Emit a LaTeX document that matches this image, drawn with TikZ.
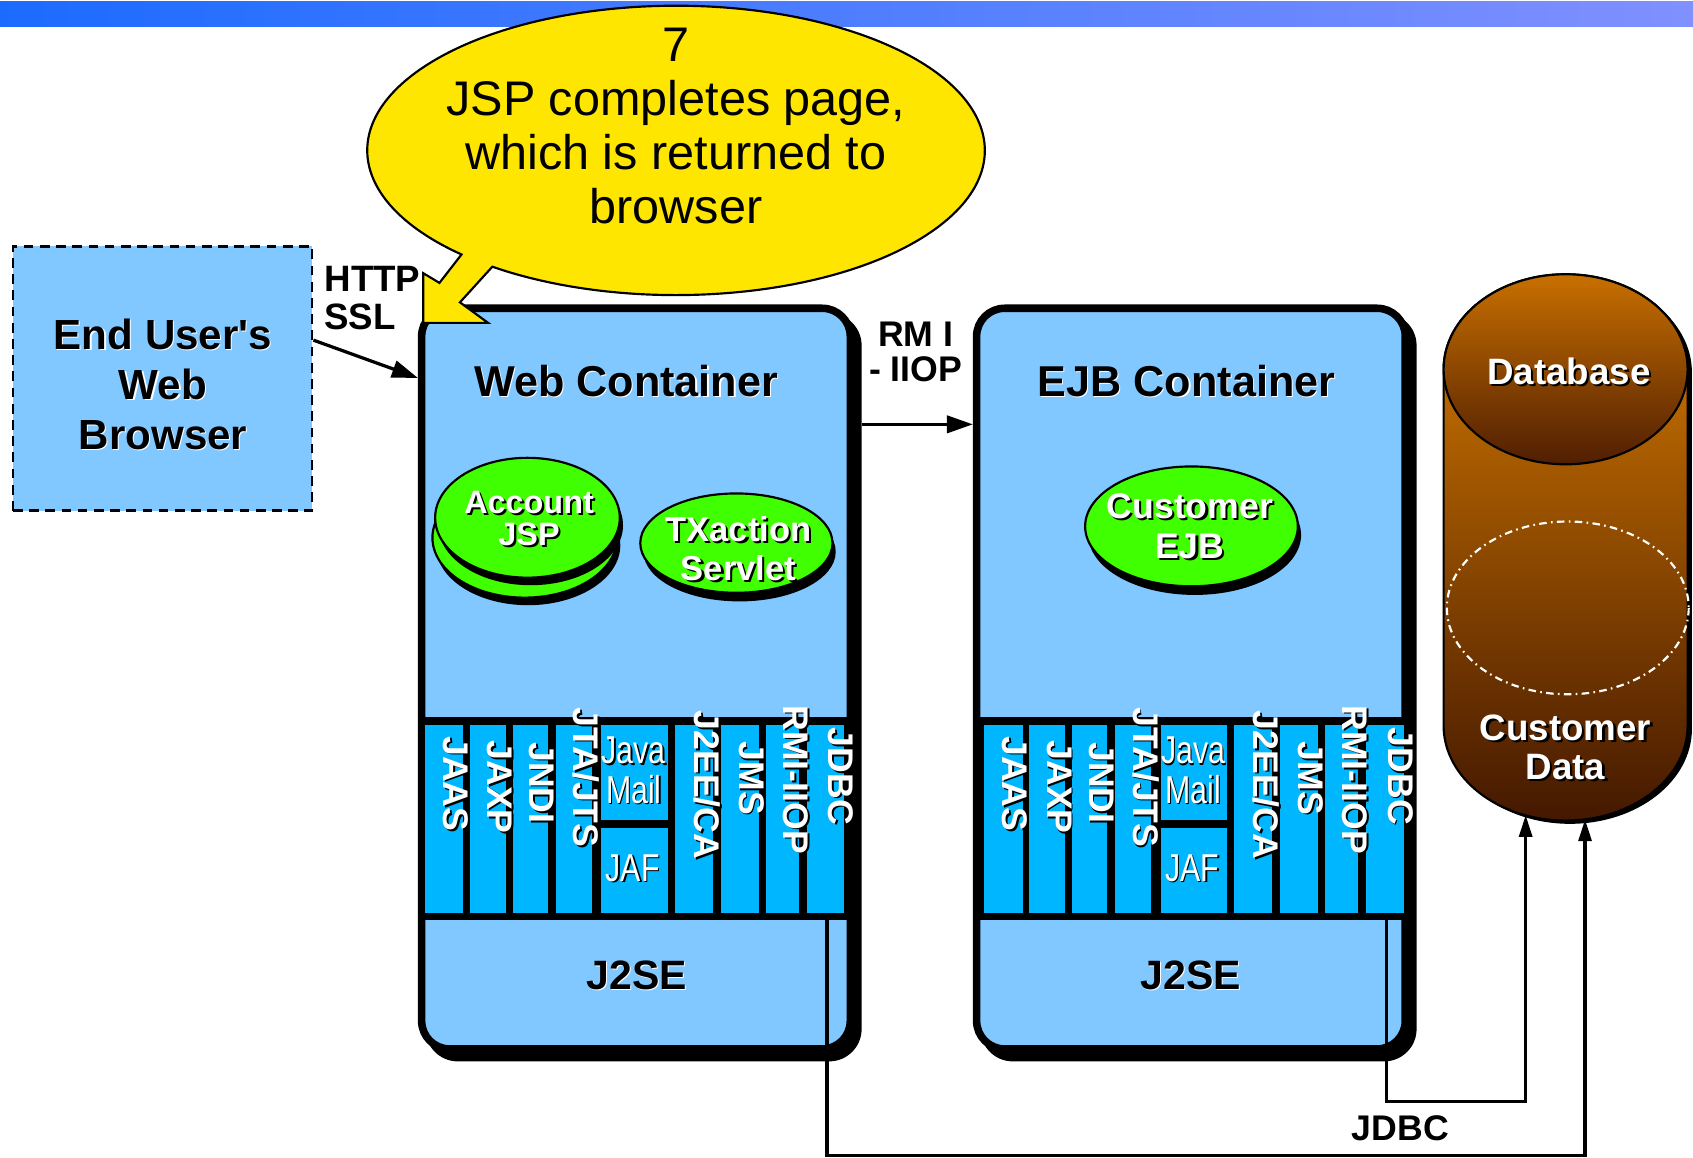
\documentclass[tikz,border=0pt]{standalone}
\usepackage{fontspec}
\setmainfont{Liberation Sans}
\newfontfamily\narrowfont{Liberation Sans}[FakeStretch=0.78]
\usetikzlibrary{arrows.meta,shapes.geometric}

\definecolor{paneblue}{RGB}{128,200,255}
\definecolor{apicyan}{RGB}{0,182,255}
\definecolor{beangreen}{RGB}{64,255,0}
\definecolor{calloutyellow}{RGB}{255,230,0}
\definecolor{dbtop}{RGB}{216,124,0}
\definecolor{dbbottom}{RGB}{68,24,0}
\definecolor{dblidtop}{RGB}{200,112,0}
\definecolor{dblidbottom}{RGB}{80,30,2}
\definecolor{barleft}{RGB}{28,107,255}
\definecolor{barmid}{RGB}{140,238,255}
\definecolor{barright}{RGB}{128,144,255}

% text with a drop shadow: {style}{name}{x,y}{shadow colour}{offset}{text}
\newcommand{\droptext}[6]{%
  \node[#1, text=#4] (#2s) at ([shift={(#5,#5)}]#3) {#6};
  \node[#1] (#2) at (#3) {#6};}

% row of API cells of one container
\def\apiband#1(#2){%
  \begin{scope}[xshift=#2]
    \fill[black] (390,664) rectangle (788,852);
    \fill[apicyan] (393.5,671) rectangle (429,846);
    \fill[apicyan] (435,671) rectangle (468.5,846);
    \fill[apicyan] (475,671) rectangle (507.5,846);
    \fill[apicyan] (515,671) rectangle (548,846);
    \fill[apicyan] (557,671) rectangle (618.5,759);
    \fill[apicyan] (557,766.5) rectangle (618.5,846);
    \fill[apicyan] (625,671) rectangle (660,846);
    \fill[apicyan] (667.5,671) rectangle (703,846);
    \fill[apicyan] (709,671) rectangle (740,846);
    \fill[apicyan] (747,671) rectangle (782,846);
    \coordinate (#1jdbc) at (766,846);
    \droptext{apilabel}{#1jaas}{422,726}{black}{1.5}{JAAS}
    \droptext{apilabel}{#1jaxp}{463,729}{black}{1.5}{JAXP}
    \droptext{apilabel}{#1jndi}{502,725}{black}{1.5}{JNDI}
    \droptext{apilabel}{#1jta}{543,720}{black}{1.5}{JTA/JTS}
    \droptext{narrowlabel}{#1java}{587,695}{black}{1.5}{Java}
    \droptext{narrowlabel}{#1mail}{587,731}{black}{1.5}{Mail}
    \droptext{narrowlabel}{#1jaf}{586,804}{black}{1.5}{JAF}
    \droptext{apilabel}{#1j2ee}{655,727}{black}{1.5}{J2EE/CA}
    \droptext{apilabel}{#1jms}{696,721}{black}{1.5}{JMS}
    \droptext{apilabel}{#1rmi}{737,722}{black}{1.5}{RMI-IIOP}
    \droptext{apilabel}{#1jdbctext}{779,719}{black}{1.5}{JDBC}
  \end{scope}}

\tikzset{
  container/.style={draw=black, line width=7pt, fill=paneblue, rounded corners=26pt,
    minimum width=397pt, minimum height=686pt},
  bean/.style={ellipse, draw=black, line width=2pt, fill=beangreen, inner sep=0pt},
  title/.style={font=\fontsize{40}{46}\selectfont\bfseries, text=black},
  beanlabel/.style={font=\fontsize{32}{36}\selectfont\bfseries, text=white, align=center},
  apilabel/.style={font=\fontsize{33}{33}\selectfont\bfseries, text=white, rotate=-90, inner sep=0pt},
  narrowlabel/.style={font=\fontsize{36}{36}\selectfont\narrowfont, text=white, inner sep=0pt},
  wirelabel/.style={font=\fontsize{33}{33}\selectfont\bfseries, align=center},
  wire/.style={line width=3pt},
  arrow/.style={wire, -{Triangle[length=24pt, width=16pt]}},
  dbarrow/.style={wire, -{Triangle[length=20pt, width=12pt]}},
}

\begin{document}
\begin{tikzpicture}[x=1pt, y=-1pt]
		%%%%% START %%%%%
		\useasboundingbox (0,0) rectangle (1568,1072);
		
		\shade[left color=barleft, middle color=barmid, right color=barright] (0,1) rectangle (1568,25);
		
		% browser
		\node[draw=black, line width=2.5pt, dash pattern=on 9pt off 6pt, fill=paneblue,
		  minimum width=277pt, minimum height=245pt] (browser) at (150.5,350.5) {};
		\droptext{title, font=\fontsize{39}{46}\selectfont\bfseries, align=center}{browsertext}{151,356}{white}{1}{End User\textquotesingle s\\Web\\Browser}
		\node[wirelabel, font=\fontsize{34}{35}\selectfont\bfseries, align=left, anchor=west] (http) at (297,276) {HTTP\\SSL};
		
		% containers
		\fill[black, rounded corners=30pt] (394,290) rectangle (798,983);
		\node[container] (web) at (589,628.5) {};
		\fill[black, rounded corners=30pt] (908,290) rectangle (1312,983);
		\node[container] (ejb) at (1103,628.5) {};
		
		\apiband{web}(0)
		\apiband{ejb}(518)
		
		\droptext{title}{webtitle}{580,353}{white}{1}{Web Container}
		\droptext{title}{ejbtitle}{1099,353}{white}{1}{EJB Container}
		\droptext{title, font=\fontsize{38}{38}\selectfont\bfseries}{webj2se}{590,903}{white}{1}{J2SE}
		\droptext{title, font=\fontsize{38}{38}\selectfont\bfseries}{ejbj2se}{1103,903}{white}{1}{J2SE}
		
		% beans
		\fill[black] (489,505) ellipse[x radius=85.5, y radius=55.5];
		\node[bean, minimum width=171pt, minimum height=111pt] (acctback) at (486,498) {};
		\fill[black] (491.5,486.5) ellipse[x radius=85.5, y radius=55.5];
		\node[bean, minimum width=171pt, minimum height=111pt] (acct) at (488.5,479.5) {};
		\droptext{beanlabel, font=\fontsize{30}{30}\selectfont\bfseries}{accttext}{490,480}{black}{2}{Account\\JSP}
		
		\fill[black] (685,511) ellipse[x radius=89, y radius=46];
		\node[bean, minimum width=178pt, minimum height=92pt] (txaction) at (682,503) {};
		\droptext{beanlabel}{txtext}{684,508}{black}{2}{TXaction\\Servlet}
		
		\fill[black] (1106.5,495.5) ellipse[x radius=98.5, y radius=55.5];
		\node[bean, minimum width=197pt, minimum height=111pt] (customer) at (1103.5,487.5) {};
		\droptext{beanlabel, font=\fontsize{33}{37}\selectfont\bfseries}{custtext}{1102,487}{black}{2}{Customer\\EJB}
		
		% database
		\fill[black] (1341,345) -- (1341,675) arc[start angle=180, end angle=0, x radius=113, y radius=88]
		  -- (1567,345) arc[start angle=0, end angle=-180, x radius=113, y radius=88] -- cycle;
		\shadedraw[top color=dbtop, bottom color=dbbottom, line width=2pt] (1337,342) -- (1337,672)
		  arc[start angle=180, end angle=0, x radius=113, y radius=88]
		  -- (1563,342) arc[start angle=0, end angle=-180, x radius=113, y radius=88] -- cycle;
		\shadedraw[top color=dblidtop, bottom color=dblidbottom, line width=2pt] (1450,342) ellipse[x radius=113, y radius=88];
		\draw[white, line width=2pt, dash pattern=on 7pt off 4pt on 1.5pt off 4pt] (1452,563) ellipse[x radius=112, y radius=80];
		\droptext{beanlabel, font=\fontsize{34}{36}\selectfont\bfseries}{dbtext}{1453,344}{black}{2}{Database}
		\droptext{beanlabel, font=\fontsize{34}{36}\selectfont\bfseries}{datatext}{1450,692}{black}{2}{Customer\\Data}
		\coordinate (dbleft) at (1413,755);
		\coordinate (dbright) at (1468,759);
		
		% connectors
		\draw[arrow] ([shift={(0,-35.5)}]browser.east) -- ([shift={(0,68)}]web.north west);
		\draw[arrow] ([shift={(7,111)}]web.north east) -- ([shift={(0,111)}]ejb.north west);
		\node[wirelabel, font=\fontsize{33}{32}\selectfont\bfseries] (rmi) at (848,326) {RM I\\- IIOP};
		\draw[dbarrow] (webjdbc) -- ++(0,224) -| (dbright);
		\draw[dbarrow] (ejbjdbc) -- ++(0,174) -| (dbleft);
		\node[wirelabel] (jdbc) at (1297,1045) {JDBC};
		
		% callout
		\draw[fill=calloutyellow, line width=2pt] (456,247)
		  arc[start angle=126.5, end angle=-226, x radius=286, y radius=134]
		  -- (407,262) -- (392,253) -- (392,299) -- (452,299) -- (426,280) -- cycle;
		\node[font=\fontsize{45}{50}\selectfont, align=center] (callout) at (626,117)
		  {7\\JSP completes page,\\which is returned to\\browser};
		
		%%%%% END %%%%%
	\end{tikzpicture}
\end{document}
